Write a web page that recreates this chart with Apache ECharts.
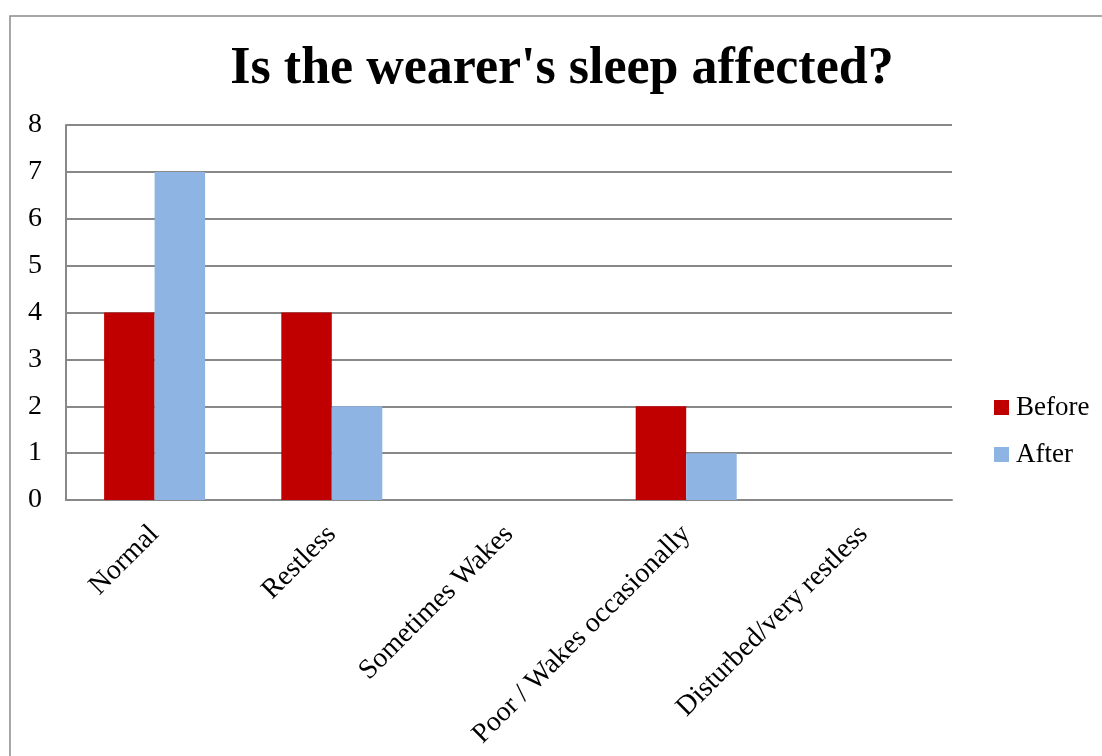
<!DOCTYPE html>
<html>
<head>
<meta charset="utf-8">
<script src="https://cdn.jsdelivr.net/npm/echarts@6/dist/echarts.min.js"></script>
<style>
html,body{margin:0;padding:0;background:#fff;}
#c{width:1102px;height:756px;}
</style>
</head>
<body>
<div id="c"></div>
<script>
var categories = ['Normal', 'Restless', 'Sometimes Wakes', 'Poor / Wakes occasionally', 'Disturbed/very restless'];
var beforeValues = [4, 4, 0, 2, 0];
var afterValues = [7, 2, 0, 1, 0];
var yTicks = [0, 1, 2, 3, 4, 5, 6, 7, 8];
var titleText = "Is the wearer's sleep affected?";

var FONT = '"Liberation Serif", "DejaVu Serif", serif';
var chart = echarts.init(document.getElementById('c'));
chart.setOption({
  animation: false,
  backgroundColor: '#fff',
  graphic: [{
    type: 'rect',
    shape: {x: 10, y: 16, width: 1300, height: 1000},
    style: {fill: 'none', stroke: '#8a8a8a', lineWidth: 1.5},
    silent: true, z: -1
  }, {
    type: 'text',
    x: 562, y: 70,
    style: {
      text: titleText, textAlign: 'center', textVerticalAlign: 'middle',
      font: 'bold 52px ' + FONT, fill: '#000'
    },
    silent: true
  }],
  legend: {
    orient: 'vertical',
    left: 994,
    top: 394,
    padding: 0,
    itemWidth: 15,
    itemHeight: 15,
    itemGap: 20,
    icon: 'rect',
    textStyle: {fontFamily: FONT, fontSize: 27, color: '#000', padding: [0, 0, 0, 2]},
    data: ['Before', 'After']
  },
  grid: {left: 66, right: 150, top: 125, bottom: 256, containLabel: false},
  xAxis: {
    type: 'category',
    data: categories,
    axisLine: {show: true, lineStyle: {color: '#888', width: 2}},
    axisTick: {show: false},
    axisLabel: {rotate: 45, interval: 0, margin: 30, fontFamily: FONT, fontSize: 28, color: '#000'}
  },
  yAxis: {
    type: 'value',
    min: yTicks[0],
    max: yTicks[yTicks.length - 1],
    interval: 1,
    axisLine: {show: true, lineStyle: {color: '#888', width: 2}},
    axisTick: {show: false},
    splitLine: {lineStyle: {color: '#888', width: 2}},
    axisLabel: {margin: 24, fontFamily: FONT, fontSize: 28, color: '#000'}
  },
  series: [
    {name: 'Before', type: 'bar', data: beforeValues, itemStyle: {color: '#C00000'}, barGap: '0%', barCategoryGap: '43%'},
    {name: 'After', type: 'bar', data: afterValues, itemStyle: {color: '#8EB4E3'}, barGap: '0%', barCategoryGap: '43%'}
  ]
});
</script>
</body>
</html>
